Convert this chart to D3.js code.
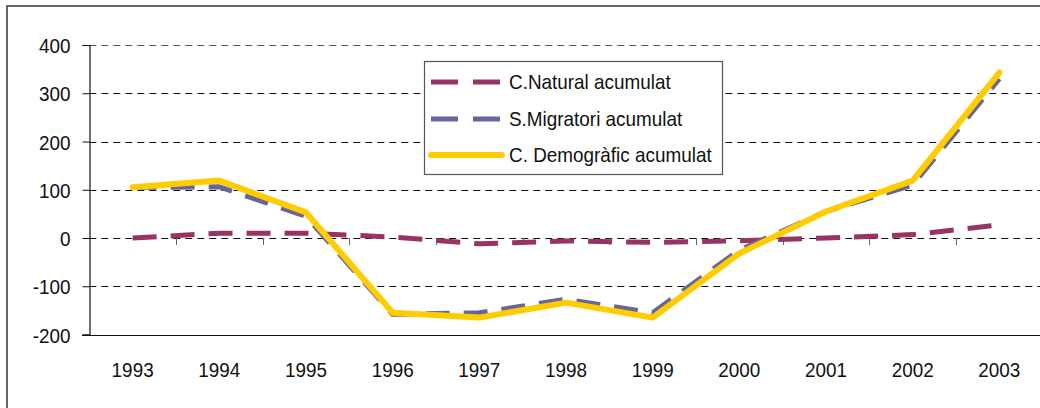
<!DOCTYPE html>
<html><head><meta charset="utf-8">
<script src="https://cdn.jsdelivr.net/npm/d3@7"></script>
<style>
html,body{margin:0;padding:0;background:#fff;}
svg text{font-family:"Liberation Sans",Arial,sans-serif;fill:#111;}
</style></head>
<body><svg id="c" width="1040" height="408"></svg>
<script>
const years = ["1993","1994","1995","1996","1997","1998","1999","2000","2001","2002","2003"];
const natural = [0, 10, 10, 2, -12, -6, -9, -6, 0, 7, 27];
const migratori = [105, 106, 45, -158, -155, -127, -155, -25, 55, 110, 330];
const demografic = [105, 119, 53, -155, -165, -134, -165, -32, 55, 119, 343];
const yTicks = [-200, -100, 0, 100, 200, 300, 400];
const seriesNames = ["C.Natural acumulat", "S.Migratori acumulat", "C. Demogràfic acumulat"];

const SX = 0.9, FS = "21px";
const svg = d3.select("#c");
const x = d3.scaleBand().domain(years).range([89.3, 1042.7]).padding(0);
const y = d3.scaleLinear().domain([-200, 400]).range([334.5, 45]);

function narrowText(sel, px, py){
  sel.attr("transform", function(d,i){ return `translate(${px(d,i)},${py(d,i)}) scale(${SX},1)`; })
     .attr("x",0).attr("y",0).style("font-size",FS);
}

// outer frame
svg.append("rect").attr("x",7).attr("y",6).attr("width",1050).attr("height",420)
  .attr("fill","none").attr("stroke","#333").attr("stroke-width",1.5);

// gridlines
svg.append("g").selectAll("line").data(yTicks.filter(d=>d>-200)).join("line")
  .attr("x1",89.3).attr("x2",1042.7)
  .attr("y1",d=>Math.round(y(d))+0.5).attr("y2",d=>Math.round(y(d))+0.5)
  .attr("stroke",d=>d===400?"#555":"#111").attr("stroke-width",1)
  .attr("stroke-dasharray","7,5");

// bottom axis line (-200)
svg.append("line").attr("x1",82).attr("x2",1042.7)
  .attr("y1",Math.round(y(-200))+0.5).attr("y2",Math.round(y(-200))+0.5)
  .attr("stroke","#111").attr("stroke-width",1.2);

// y axis
const yAxis = d3.axisLeft(y).tickValues(yTicks).tickSize(7).tickPadding(12).tickFormat(d=>String(d));
const gy = svg.append("g").attr("transform","translate(89.5,0)").call(yAxis);
gy.select(".domain").attr("stroke","#111").attr("stroke-width",1.2);
gy.selectAll(".tick line").attr("stroke","#111");
gy.selectAll(".tick text").attr("dy",null)
  .attr("transform",`translate(-19,7.5) scale(${SX},1)`).attr("x",0).attr("y",0)
  .style("font-size",FS).attr("fill","#111");

// zero-line category tick marks
const bounds = years.slice(1).map(d=>x(d));
svg.append("g").selectAll("line").data(bounds).join("line")
  .attr("x1",d=>Math.round(d)+0.5).attr("x2",d=>Math.round(d)+0.5)
  .attr("y1",y(0)).attr("y2",y(0)+7).attr("stroke","#666").attr("stroke-width",1);

// x labels
svg.append("g").selectAll("text").data(years).join("text")
  .attr("text-anchor","middle").text(d=>d)
  .call(narrowText, d=>x(d)+x.bandwidth()/2, ()=>377);

const line = d3.line().x((d,i)=>x(years[i])+x.bandwidth()/2).y(d=>y(d));
const series = [
  {name:seriesNames[0], values:natural, color:"#993366", w:5, dash:"24,14"},
  {name:seriesNames[1], values:migratori, color:"#666699", w:5, dash:"24,14"},
  {name:seriesNames[2], values:demografic, color:"#FFCC00", w:6, dash:null}
];
svg.append("g").selectAll("path").data(series).join("path")
  .attr("d",d=>line(d.values)).attr("fill","none")
  .attr("stroke",d=>d.color).attr("stroke-width",d=>d.w)
  .attr("stroke-dasharray",d=>d.dash)
  .attr("stroke-linejoin","round").attr("stroke-linecap",d=>d.dash?"butt":"round");

// legend
const lg = svg.append("g");
lg.append("rect").attr("x",424.5).attr("y",61.5).attr("width",298).attr("height",113)
  .attr("fill","#fff").attr("stroke","#555").attr("stroke-width",1.2);
const rowY = [82,119,155];
const rows = lg.selectAll("g").data(series).join("g")
  .attr("transform",(d,i)=>`translate(0,${rowY[i]})`);
rows.append("line").attr("x1",431).attr("x2",d=>d.dash?500:502).attr("y1",0).attr("y2",0)
  .attr("stroke",d=>d.color).attr("stroke-width",d=>d.w)
  .attr("stroke-dasharray",d=>d.dash?"27,15":null)
  .attr("stroke-linecap",d=>d.dash?"butt":"round");
rows.append("text").text(d=>d.name).call(narrowText, ()=>509, ()=>6.5);
</script></body></html>
